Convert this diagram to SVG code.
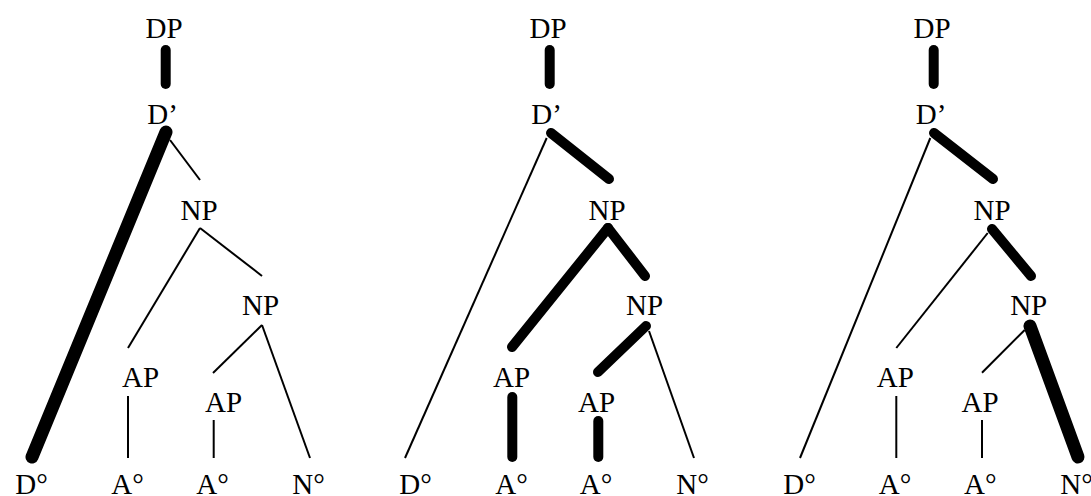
<svg xmlns="http://www.w3.org/2000/svg" width="1091" height="496" viewBox="0 0 1091 496">
<style>
text{font-family:"Liberation Serif","Times New Roman",serif;font-size:29px;fill:#000;text-anchor:middle}
line{stroke:#000;stroke-linecap:round}
.t{stroke-width:2;stroke-linecap:butt}
.k{stroke-width:10}
.kk{stroke-width:13}
</style>
<rect width="1091" height="496" fill="#fff"/>
<g id="connectors">
<!-- tree 1 -->
<line class="k" x1="165.7" y1="50" x2="165.7" y2="84"/>
<line class="kk" x1="166" y1="132" x2="32" y2="457"/>
<line class="t" x1="170" y1="140" x2="200" y2="180"/>
<line class="t" x1="200" y1="228" x2="128" y2="348"/>
<line class="t" x1="200" y1="228" x2="262" y2="276"/>
<line class="t" x1="262" y1="325" x2="213" y2="373"/>
<line class="t" x1="262" y1="325" x2="310" y2="458"/>
<line class="t" x1="128" y1="396" x2="128" y2="458"/>
<line class="t" x1="213.7" y1="420" x2="213.7" y2="458"/>
<!-- tree 2 -->
<line class="k" x1="549.7" y1="50" x2="549.7" y2="84"/>
<line class="t" x1="546.7" y1="138" x2="405" y2="458"/>
<line class="k" x1="551" y1="133" x2="609" y2="179"/>
<line class="k" x1="608" y1="228" x2="512" y2="347"/>
<line class="k" x1="608" y1="228" x2="645" y2="276"/>
<line class="k" x1="646" y1="326" x2="598" y2="372"/>
<line class="t" x1="649" y1="331" x2="694" y2="458"/>
<line class="k" x1="512.3" y1="397" x2="512.3" y2="457"/>
<line class="k" x1="598.3" y1="421" x2="598.3" y2="457"/>
<!-- tree 3 -->
<line class="k" x1="933.7" y1="50" x2="933.7" y2="84"/>
<line class="t" x1="930.3" y1="138" x2="800" y2="458"/>
<line class="k" x1="934" y1="133" x2="993" y2="179"/>
<line class="t" x1="987.7" y1="233" x2="896.3" y2="348"/>
<line class="k" x1="992" y1="229" x2="1031" y2="276"/>
<line class="t" x1="1024.7" y1="330" x2="982" y2="372.7"/>
<line class="kk" x1="1030" y1="326" x2="1078" y2="457"/>
<line class="t" x1="896.3" y1="396" x2="896.3" y2="458"/>
<line class="t" x1="982" y1="420" x2="982" y2="458"/>
</g>
<g id="t1-DP"><text x="164" y="38">DP</text></g>
<g id="t1-Dbar"><text x="162.5" y="124">D’</text></g>
<g id="t1-NP1"><text x="199" y="220">NP</text></g>
<g id="t1-NP2"><text x="260.5" y="315">NP</text></g>
<g id="t1-AP1"><text x="140.5" y="387">AP</text></g>
<g id="t1-AP2"><text x="223.5" y="412">AP</text></g>
<g id="t1-D0"><text x="31.5" y="494">D°</text></g>
<g id="t1-A01"><text x="127.5" y="494">A°</text></g>
<g id="t1-A02"><text x="212.5" y="494">A°</text></g>
<g id="t1-N0"><text x="308.5" y="494">N°</text></g>
<g id="t2-DP"><text x="548" y="38">DP</text></g>
<g id="t2-Dbar"><text x="546.5" y="124">D’</text></g>
<g id="t2-NP1"><text x="607" y="220">NP</text></g>
<g id="t2-NP2"><text x="644.5" y="315">NP</text></g>
<g id="t2-AP1"><text x="511.5" y="387">AP</text></g>
<g id="t2-AP2"><text x="596.5" y="412">AP</text></g>
<g id="t2-D0"><text x="415.5" y="494">D°</text></g>
<g id="t2-A01"><text x="511.5" y="494">A°</text></g>
<g id="t2-A02"><text x="596" y="494">A°</text></g>
<g id="t2-N0"><text x="692.5" y="494">N°</text></g>
<g id="t3-DP"><text x="932" y="38">DP</text></g>
<g id="t3-Dbar"><text x="931" y="124">D’</text></g>
<g id="t3-NP1"><text x="992" y="220">NP</text></g>
<g id="t3-NP2"><text x="1028.7" y="315">NP</text></g>
<g id="t3-AP1"><text x="895.3" y="387">AP</text></g>
<g id="t3-AP2"><text x="980" y="412">AP</text></g>
<g id="t3-D0"><text x="799.5" y="494">D°</text></g>
<g id="t3-A01"><text x="895" y="494">A°</text></g>
<g id="t3-A02"><text x="980.3" y="494">A°</text></g>
<g id="t3-N0"><text x="1076.5" y="494">N°</text></g>
</svg>
